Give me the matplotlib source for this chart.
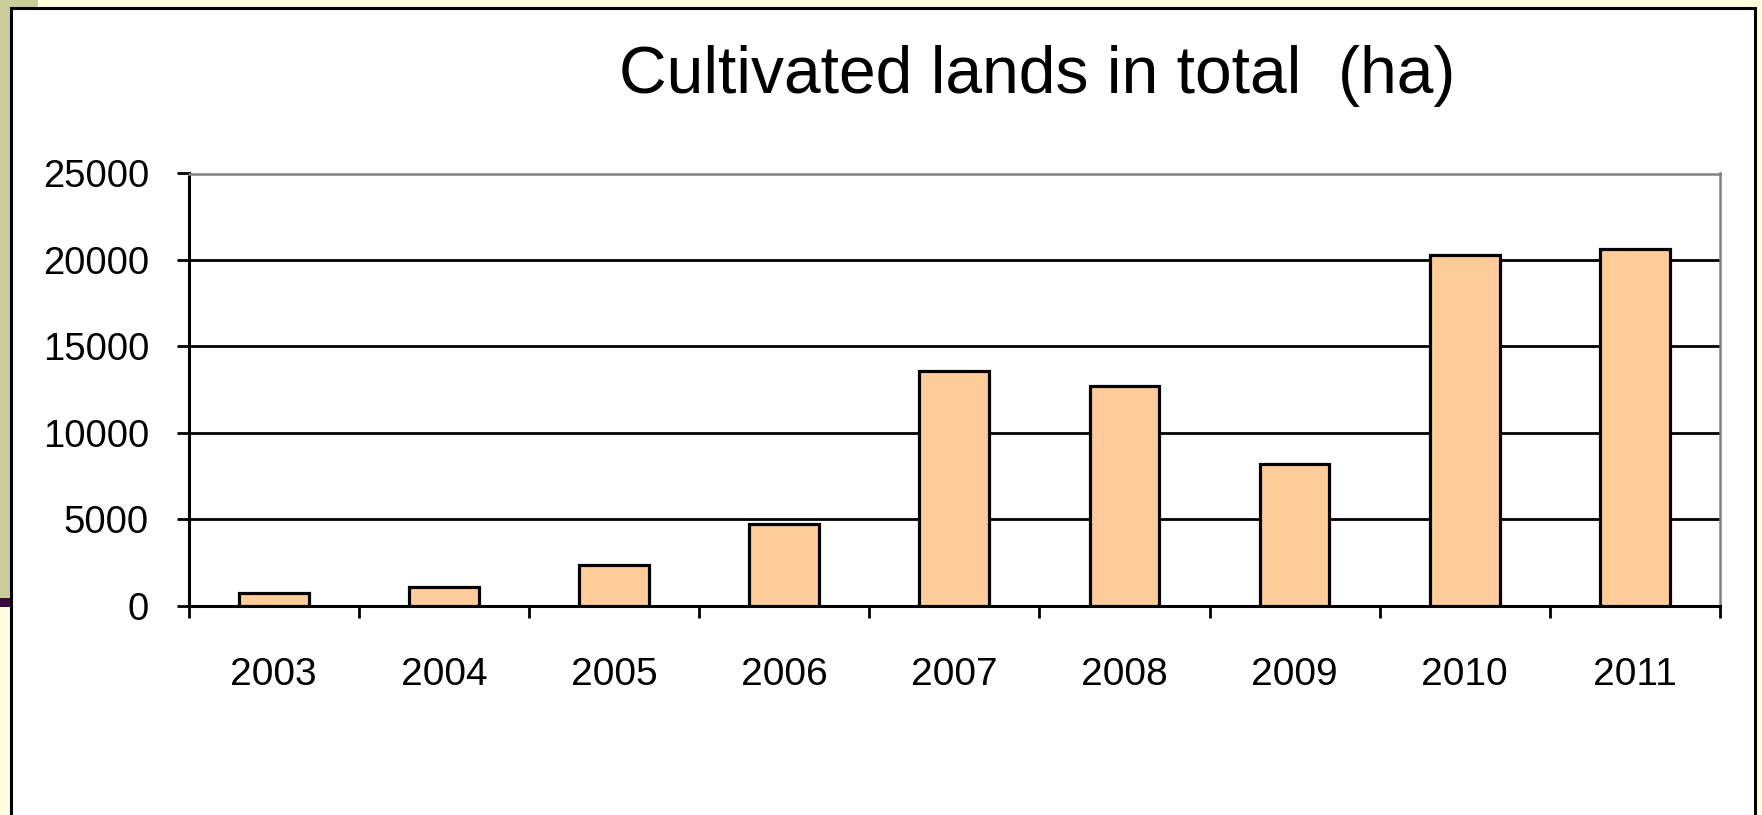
import numpy as np
import matplotlib.pyplot as plt
from matplotlib.patches import Rectangle
from matplotlib.ticker import FixedLocator

plt.rcParams['font.family'] = ['Liberation Sans', 'DejaVu Sans']

years = ['2003', '2004', '2005', '2006', '2007', '2008', '2009', '2010', '2011']
hectares = [750, 1100, 2350, 4750, 13600, 12700, 8200, 20300, 20650]
y_ticks = [0, 5000, 10000, 15000, 20000, 25000]

W, H = 1762, 815
fig = plt.figure(figsize=(W / 100, H / 100), dpi=100, facecolor='#FFFFE0')

# slide decoration behind the chart
def px_rect(x0, y0, x1, y1, **kw):
    fig.patches.append(Rectangle((x0 / W, 1 - y1 / H), (x1 - x0) / W, (y1 - y0) / H,
                                 transform=fig.transFigure, figure=fig, zorder=-5, **kw))

px_rect(0, 0, 38, 8, facecolor='#CCCC99', edgecolor='none')
px_rect(0, 0, 10, 598, facecolor='#CCCC99', edgecolor='none')
px_rect(0, 598, 10, 607, facecolor='#3A0A3A', edgecolor='none')
px_rect(11, 8, 1755, 830, facecolor='white', edgecolor='black', linewidth=2.2)

ax = fig.add_axes([188.6 / W, 1 - 605.7 / H, (1720 - 188.6) / W, (605.7 - 173.5) / H])
ax.set_zorder(2)
ax.set_facecolor('white')

x = np.arange(len(years))
ax.bar(x, hectares, width=0.41, color='#FFCC99', edgecolor='black', linewidth=2.3, zorder=3)

ax.set_xlim(-0.5, len(years) - 0.5)
ax.set_ylim(0, 25000)
ax.set_yticks(y_ticks)
ax.set_yticklabels([str(v) for v in y_ticks])
ax.yaxis.grid(True, color='black', linewidth=2.0, zorder=1)
ax.set_axisbelow(True)

ax.set_xticks(x)
ax.set_xticklabels(years)
ax.xaxis.set_minor_locator(FixedLocator(np.arange(-0.5, len(years), 1.0)))
ax.tick_params(axis='x', which='major', length=0, pad=37, labelsize=28)
ax.tick_params(axis='x', which='minor', length=8.5, width=2.0, direction='out', color='black')
ax.tick_params(axis='y', length=8.5, width=2.0, direction='out', pad=20, labelsize=27.5)

for side in ['left', 'bottom']:
    ax.spines[side].set_color('black')
    ax.spines[side].set_linewidth(2.2)
for side in ['top', 'right']:
    ax.spines[side].set_color('#808080')
    ax.spines[side].set_linewidth(1.8)

fig.text(1037 / W, 1 - 93 / H, 'Cultivated lands in total  (ha)', fontsize=47.5,
         ha='center', va='baseline')

fig.savefig('out.png', dpi=100, facecolor=fig.get_facecolor())
